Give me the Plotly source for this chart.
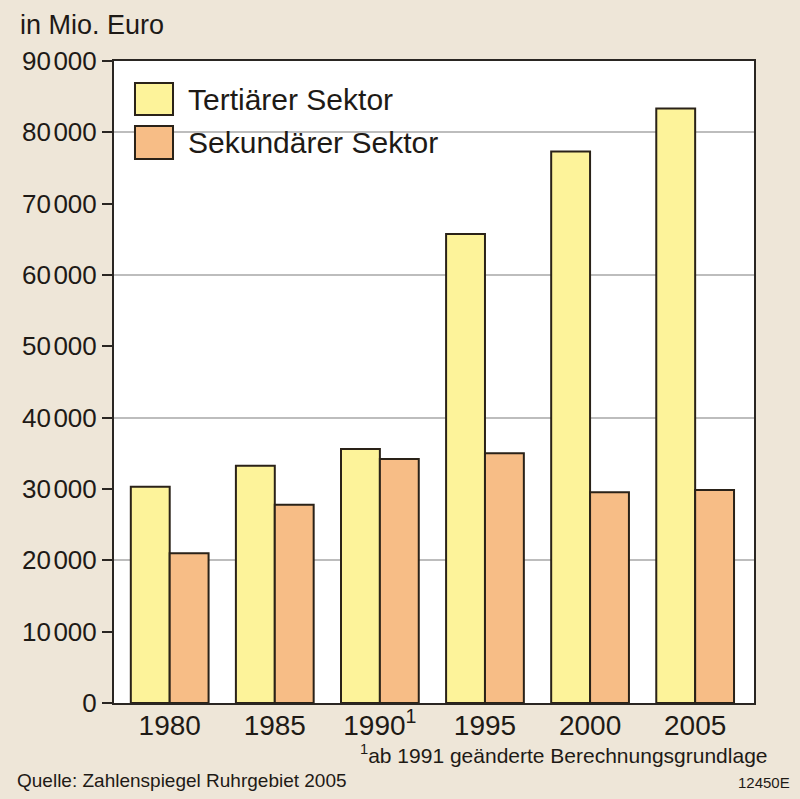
import plotly.graph_objects as go

years = ["1980", "1985", "1990", "1995", "2000", "2005"]
year_labels = ["1980", "1985", "1990<sup>1</sup>", "1995", "2000", "2005"]
tertiaer = [30300, 33250, 35600, 65750, 77300, 83350]
sekundaer = [21000, 27800, 34200, 35000, 29550, 29850]
series_names = ["Tertiärer Sektor", "Sekundärer Sektor"]
y_tick_vals = [0, 10000, 20000, 30000, 40000, 50000, 60000, 70000, 80000, 90000]
y_tick_thousands = ["", "10", "20", "30", "40", "50", "60", "70", "80", "90"]
grid_vals = [20000, 40000, 60000, 80000]

SMALL_SPACE = "<span style='font-size:9px'> </span>"
y_tick_text = ["0" if t == "" else t + SMALL_SPACE + "000" for t in y_tick_thousands]

FONT = "Liberation Sans, Arial, Helvetica, sans-serif"
YELLOW = "#FDF39A"
ORANGE = "#F7BD86"
EDGE = "#2A2218"
BG = "#EEE6D8"
AXIS = "#2A2622"
TXT = "#1E1A16"

fig = go.Figure()
fig.add_trace(go.Bar(x=years, y=tertiaer, name=series_names[0], marker=dict(color=YELLOW, line=dict(color=EDGE, width=2)), showlegend=False))
fig.add_trace(go.Bar(x=years, y=sekundaer, name=series_names[1], marker=dict(color=ORANGE, line=dict(color=EDGE, width=2)), showlegend=False))
# invisible trace on secondary axis for gridlines every 20000
fig.add_trace(go.Scatter(x=[years[0]], y=[0], yaxis="y2", mode="markers", marker=dict(opacity=0), showlegend=False, hoverinfo="skip"))

fig.update_layout(
    width=800, height=799,
    margin=dict(l=114, r=46, t=61, b=96),
    paper_bgcolor=BG, plot_bgcolor="white",
    barmode="group", bargap=0.26, bargroupgap=0,
    font=dict(family=FONT, color=TXT),
    xaxis=dict(type="category", range=[-0.53, 5.56], tickvals=years, ticktext=year_labels,
               tickfont=dict(size=28, family=FONT), showgrid=False, ticks="", ticklabelstandoff=-4,
               showline=True, linecolor=AXIS, linewidth=2, mirror=True, zeroline=False),
    yaxis=dict(range=[0, 90000], tickvals=y_tick_vals, ticktext=y_tick_text, tickfont=dict(size=26, family=FONT),
               ticks="outside", ticklen=10, tickwidth=1.5, tickcolor=AXIS, showgrid=False,
               showline=True, linecolor=AXIS, linewidth=2, mirror=True, zeroline=False),
    yaxis2=dict(range=[0, 90000], overlaying="y", side="right", tickvals=grid_vals, showticklabels=False,
                ticks="", showgrid=True, gridcolor="#BDBDBD", gridwidth=1.5, zeroline=False, showline=False),
)

# manual legend
legend_colors = [YELLOW, ORANGE]
legend_boxes = [(0.9657, 0.9159), (0.8988, 0.8474)]
for name, col, (y1, y0) in zip(series_names, legend_colors, legend_boxes):
    fig.add_shape(type="rect", xref="paper", yref="paper", x0=0.0328, x1=0.0922, y0=y0, y1=y1,
                  fillcolor=col, line=dict(color=EDGE, width=2))
    fig.add_annotation(xref="paper", yref="paper", x=0.112, y=(y0 + y1) / 2, text=name, showarrow=False,
                       xanchor="left", yanchor="middle", font=dict(size=30, family=FONT, color=TXT))

fig.add_annotation(xref="paper", yref="paper", x=-0.15, y=1.0, yshift=36, text="in Mio. Euro", showarrow=False,
                   xanchor="left", yanchor="middle", font=dict(size=27, family=FONT, color=TXT))
fig.add_annotation(xref="paper", yref="paper", x=1.0, xshift=16, y=0, yshift=-51,
                   text="<sup>1</sup>ab 1991 geänderte Berechnungsgrundlage", showarrow=False,
                   xanchor="right", yanchor="middle", font=dict(size=21, family=FONT, color=TXT))
fig.add_annotation(xref="paper", yref="paper", x=-0.155, y=0, yshift=-77,
                   text="Quelle: Zahlenspiegel Ruhrgebiet 2005", showarrow=False,
                   xanchor="left", yanchor="middle", font=dict(size=19, family=FONT, color=TXT))
fig.add_annotation(xref="paper", yref="paper", x=1.0, xshift=38, y=0, yshift=-79,
                   text="12450E", showarrow=False,
                   xanchor="right", yanchor="middle", font=dict(size=15, family=FONT, color=TXT))

fig.write_html("out.html", config={"displayModeBar": False},
               post_script="document.body.style.margin='0';document.body.style.padding='0';document.body.style.background='#EEE6D8';document.body.style.overflow='hidden';")
